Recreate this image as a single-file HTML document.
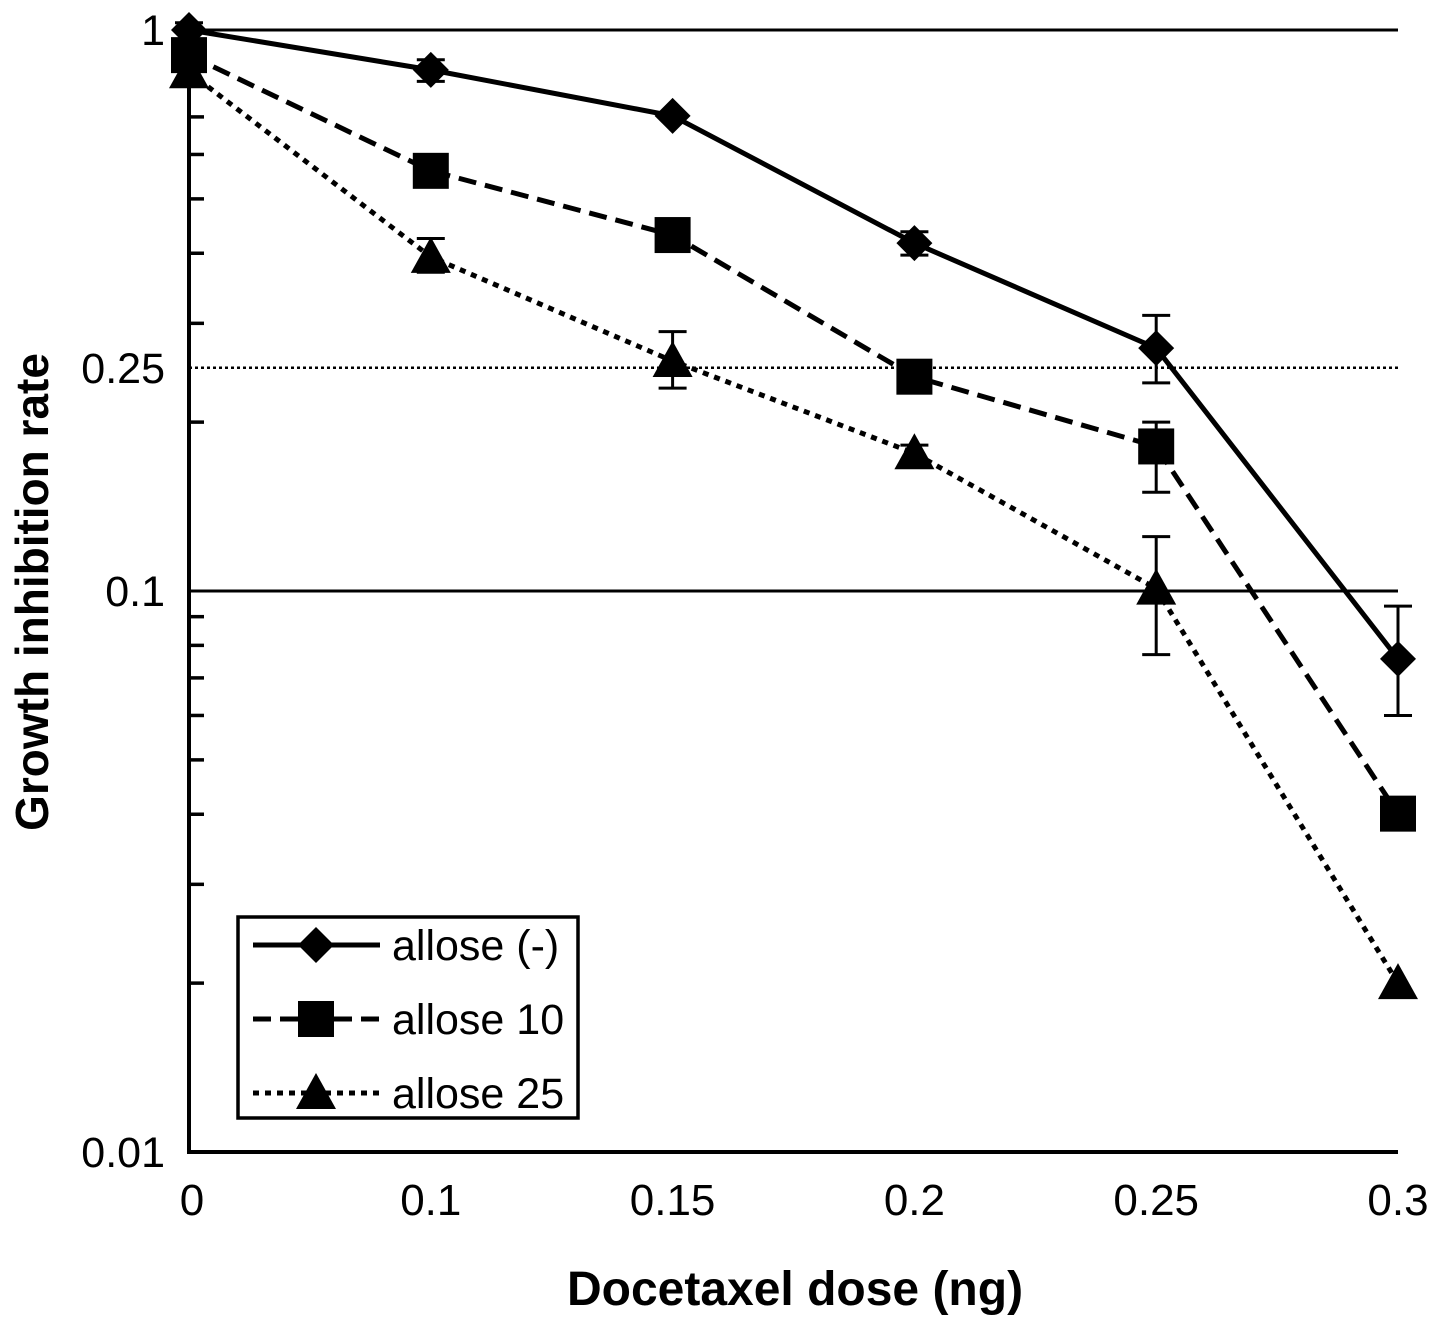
<!DOCTYPE html>
<html><head><meta charset="utf-8"><style>
body{margin:0;background:#fff;}
svg{display:block;font-family:"Liberation Sans",Arial,sans-serif;}
</style></head><body>
<svg id="chart" width="1441" height="1325" viewBox="0 0 1441 1325" xmlns="http://www.w3.org/2000/svg"></svg>
<script>
const categories = ["0","0.1","0.15","0.2","0.25","0.3"];
const seriesNames = ["allose (-)","allose 10","allose 25"];
const valuesNone = [1.0,0.849,0.703,0.417,0.271,0.0757];
const values10 = [0.902,0.561,0.431,0.241,0.181,0.0401];
const values25 = [0.841,0.394,0.257,0.176,0.101,0.0200];
const errHiNone = [1.03,0.885,null,0.437,0.31,0.094];
const errLoNone = [null,0.81,null,0.397,0.235,0.060];
const errHi10 = [null,null,null,null,0.20,null];
const errLo10 = [null,null,null,null,0.15,null];
const errHi25 = [null,0.425,0.29,0.182,0.125,null];
const errLo25 = [null,0.37,0.23,0.170,0.077,null];
const yTicks = [1,0.25,0.1,0.01];
const yTickLabels = ["1","0.25","0.1","0.01"];

const svg=document.getElementById('chart');
const NS="http://www.w3.org/2000/svg";
const L=189,R=1398,T=30,B=1152;
function xs(i){return L+(R-L)*i/(categories.length-1);}
function ys(v){return T+(B-T)*(Math.log10(1)-Math.log10(v))/2;}
function mk(tag,attrs,parent){const e=document.createElementNS(NS,tag);for(const k in attrs)e.setAttribute(k,attrs[k]);(parent||svg).appendChild(e);return e;}

[1,0.1].forEach(v=>{const g=mk('line',{x1:L,x2:R,y1:ys(v),y2:ys(v),stroke:'#000','stroke-width':3});

});
const g25=mk('line',{x1:L,x2:R,y1:ys(0.25),y2:ys(0.25),stroke:'#000','stroke-width':2.5,'stroke-dasharray':'3,3'});



const ax=mk('path',{d:`M${L},${T} V${B} H${R}`,fill:'none',stroke:'#000','stroke-width':4});


[1,0.1].forEach(d=>{for(let m=2;m<=9;m++){const v=d*m/10;const t=mk('line',{x1:L,x2:L+15,y1:ys(v),y2:ys(v),stroke:'#000','stroke-width':3.5});

}});
yTicks.forEach((v,i)=>{const t=mk('text',{x:L-24,y:ys(v)+15,'text-anchor':'end','font-size':43});t.textContent=yTickLabels[i];

});
categories.forEach((c,i)=>{const t=mk('text',{x:xs(i)+(i==0?3:0),y:1215,'text-anchor':'middle','font-size':44});t.textContent=c;

});
const xt=mk('text',{x:795,y:1305,'text-anchor':'middle','font-size':48,'font-weight':'bold'});xt.textContent='Docetaxel dose (ng)';


const yt=mk('text',{x:0,y:0,'text-anchor':'middle','font-size':46,'font-weight':'bold',transform:'translate(48,592) rotate(-90)'});yt.textContent='Growth inhibition rate';



function marker(type,x,y,parent){
 if(type==0) return mk('polygon',{points:`${x},${y-18} ${x+18},${y} ${x},${y+18} ${x-18},${y}`,fill:'#000'},parent);
 if(type==1) return mk('rect',{x:x-18,y:y-18,width:36,height:36,fill:'#000'},parent);
 return mk('polygon',{points:`${x},${y-20} ${x+20},${y+16} ${x-20},${y+16}`,fill:'#000'},parent);
}
const allVals=[valuesNone,values10,values25];
const hi=[errHiNone,errHi10,errHi25], lo=[errLoNone,errLo10,errLo25];
const dash=[null,'18,9','6,6'];
allVals.forEach((vals,s)=>{
 const g=mk('g',{});
 
 
 const p=mk('polyline',{points:vals.map((v,i)=>xs(i)+','+ys(v)).join(' '),fill:'none',stroke:'#000','stroke-width':5},g);
 if(dash[s])p.setAttribute('stroke-dasharray',dash[s]);
 vals.forEach((v,i)=>{
  const x=xs(i);
  [hi[s][i],lo[s][i]].forEach(e=>{ if(e==null)return;
   const l=mk('line',{x1:x,x2:x,y1:ys(v),y2:ys(e),stroke:'#000','stroke-width':3},g);
   
   
   const c=mk('line',{x1:x-14,x2:x+14,y1:ys(e),y2:ys(e),stroke:'#000','stroke-width':3},g);
   
   
  });
  const m=marker(s,x,ys(v),g);
  
  
 });
});

const lg=mk('g',{});


mk('rect',{x:238,y:917,width:340,height:201,fill:'#fff',stroke:'#000','stroke-width':3.5},lg);
seriesNames.forEach((n,s)=>{
 const y=945+s*74;
 const e=mk('g',{},lg);
 
 
 const l=mk('line',{x1:253,x2:380,y1:y,y2:y,stroke:'#000','stroke-width':5},e);
 if(dash[s])l.setAttribute('stroke-dasharray',dash[s]);
 marker(s,316,y,e);
 const t=mk('text',{x:392,y:y+15,'font-size':43},e);t.textContent=n;
});
</script>
</body></html>
